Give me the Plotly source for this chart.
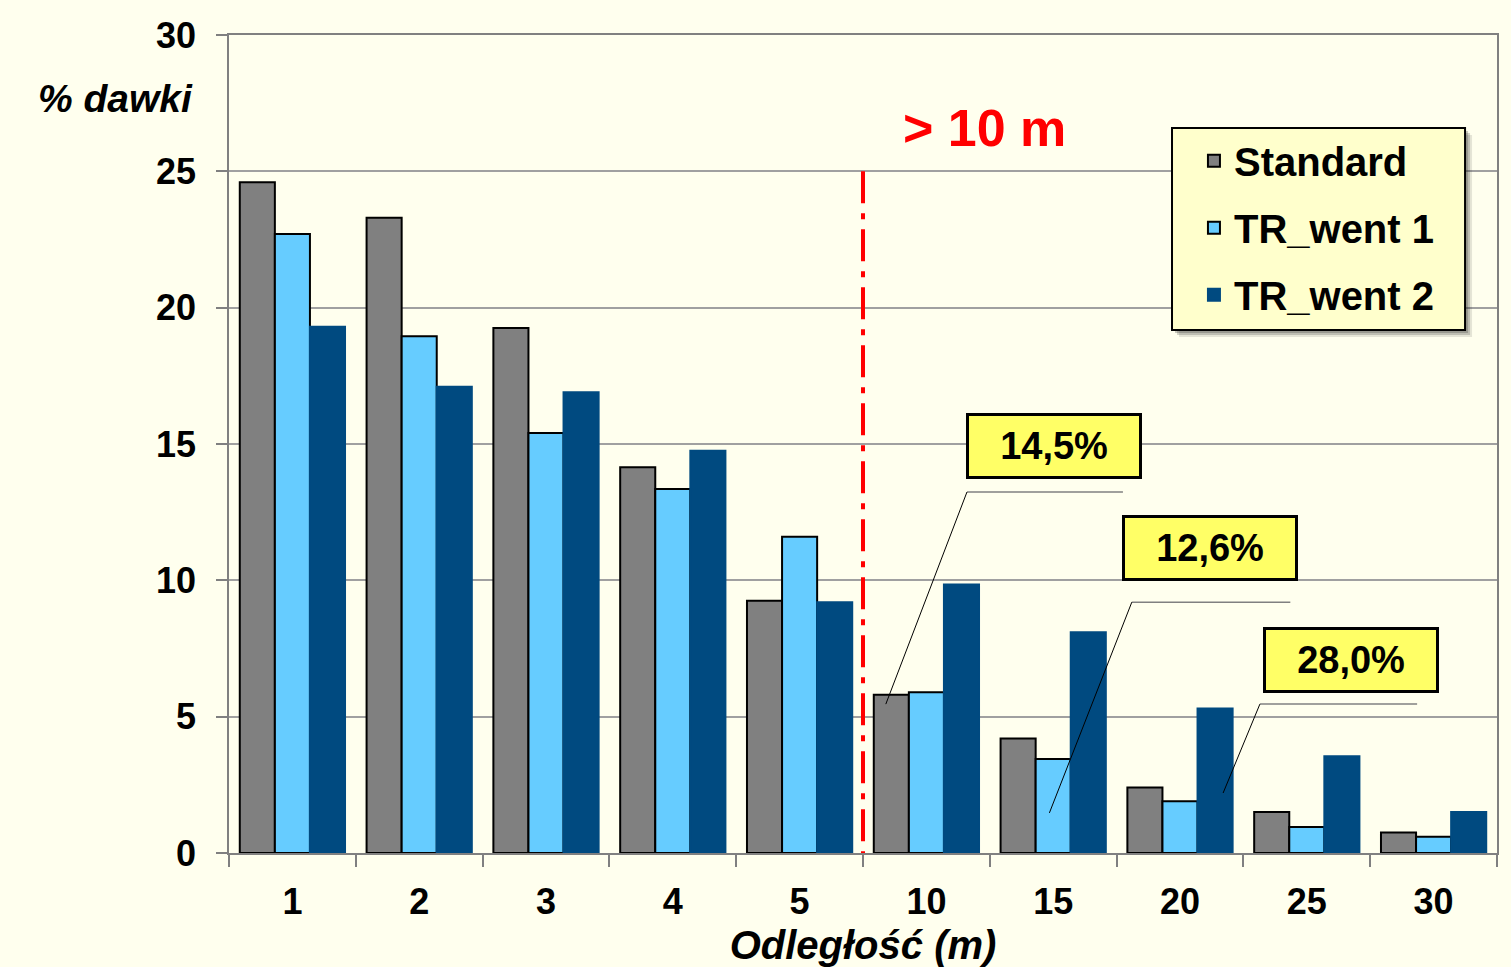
import plotly.graph_objects as go

categories = ["1", "2", "3", "4", "5", "10", "15", "20", "25", "30"]
standard = [24.6, 23.3, 19.25, 14.15, 9.25, 5.8, 4.2, 2.4, 1.5, 0.75]
tr_went1 = [22.7, 18.95, 15.4, 13.35, 11.6, 5.9, 3.45, 1.9, 0.95, 0.6]
tr_went2 = [19.3, 17.1, 16.9, 14.75, 9.2, 9.85, 8.1, 5.3, 3.55, 1.5]
series_names = ["Standard", "TR_went 1", "TR_went 2"]
callout_labels = ["14,5%", "12,6%", "28,0%"]

BG = "#FFFFEE"
NARROW = "Liberation Sans Narrow, Arial Narrow, Liberation Sans, Arial"
SANS = "Liberation Sans, Arial, sans-serif"

fig = go.Figure()
colors = ["#808080", "#66CCFF", "#004A80"]
lines = ["#000000", "#000000", "#004A80"]
for i, (name, vals) in enumerate(zip(series_names, [standard, tr_went1, tr_went2])):
    fig.add_trace(go.Bar(
        x=categories, y=vals, name=name, legendgroup=name,
        marker=dict(color=colors[i], line=dict(color=lines[i], width=2)),
    ))

shapes = []
# legend shadow (soft) and box
for off, alpha in [(7, 0.12), (5, 0.2), (3, 0.25)]:
    shapes.append(dict(type="rect", xref="paper", yref="paper",
                       x0=0.7437 + off / 1268, x1=0.9748 + off / 1268,
                       y0=0.6394 - off / 818, y1=0.8863 - off / 818,
                       fillcolor=f"rgba(40,40,40,{alpha})", line=dict(width=0), layer="above"))
shapes.append(dict(type="rect", xref="paper", yref="paper",
                   x0=0.7437, x1=0.9748, y0=0.6394, y1=0.8863,
                   fillcolor="#FFFFCC", line=dict(color="black", width=2), layer="above"))
# red dash-dot divider
shapes.append(dict(type="line", xref="x", yref="y", x0=4.5, x1=4.5, y0=25, y1=-0.65,
                   line=dict(color="#FF0000", width=4, dash="32px,10px,6px,10px"), layer="above"))
# callouts: (horizontal x0, x1, y), diagonal end (x, y)
callouts = [
    ((5.32, 6.55, 13.24), (4.68, 5.46)),
    ((6.62, 7.87, 9.2), (5.97, 1.47)),
    ((7.63, 8.87, 5.46), (7.34, 2.2)),
]
for (hx0, hx1, hy), (dx, dy) in callouts:
    shapes.append(dict(type="line", xref="x", yref="y", x0=hx0, x1=hx1, y0=hy, y1=hy,
                       line=dict(color="#808080", width=1.5), layer="above"))
    shapes.append(dict(type="line", xref="x", yref="y", x0=hx0, x1=dx, y0=hy, y1=dy,
                       line=dict(color="#000000", width=1), layer="above"))

annotations = []
box_pos = [(6.01, 14.92), (7.24, 11.18), (8.35, 7.08)]
for lab, (bx, by) in zip(callout_labels, box_pos):
    annotations.append(dict(x=bx, y=by, xref="x", yref="y", text=lab, showarrow=False,
                            font=dict(family=SANS, size=38, color="black", weight="bold"),
                            bgcolor="#FFFF66", bordercolor="black", borderwidth=3,
                            width=168, height=58))
annotations.append(dict(x=5.46, y=26.6, xref="x", yref="y", text="> 10 m", showarrow=False,
                        font=dict(family=SANS, size=52, color="#FF0000", weight="bold")))
annotations.append(dict(x=-0.0265, y=0.922, xref="paper", yref="paper", xanchor="right",
                        yanchor="middle", text="<i>% dawki</i>", showarrow=False,
                        font=dict(family=SANS, size=39, color="black", weight="bold")))

fig.update_layout(
    width=1511, height=967,
    paper_bgcolor=BG, plot_bgcolor=BG,
    margin=dict(l=229, r=14, t=35, b=114),
    barmode="group", bargap=0.17, bargroupgap=0,
    showlegend=True,
    legend=dict(x=0.761, y=0.886, xanchor="left", yanchor="top",
                bgcolor="rgba(0,0,0,0)", borderwidth=0,
                font=dict(family=SANS, size=40, color="black", weight="bold"),
                tracegroupgap=12, itemwidth=30),
    shapes=shapes, annotations=annotations,
    xaxis=dict(type="category", tickson="boundaries", ticks="outside", ticklen=12,
               tickcolor="#808080", tickwidth=1.5, showline=True, linecolor="#808080",
               linewidth=1.5, mirror=True, ticklabelstandoff=16, automargin=False,
               tickfont=dict(family=NARROW, size=36, color="black", weight="bold"),
               title=dict(text="<i>Odległość (m)</i>", standoff=14,
                          font=dict(family=SANS, size=40, color="black", weight="bold"))),
    yaxis=dict(range=[0, 30], dtick=5, ticks="outside", ticklen=11, tickcolor="#808080",
               tickwidth=1.5, showgrid=True, gridcolor="#A0A0A0", gridwidth=1.5,
               zeroline=False, showline=True, linecolor="#808080", linewidth=1.5, mirror=True,
               ticklabelstandoff=13, automargin=False,
               tickfont=dict(family=NARROW, size=36, color="black", weight="bold")),
)

fig.write_html("out.html")
